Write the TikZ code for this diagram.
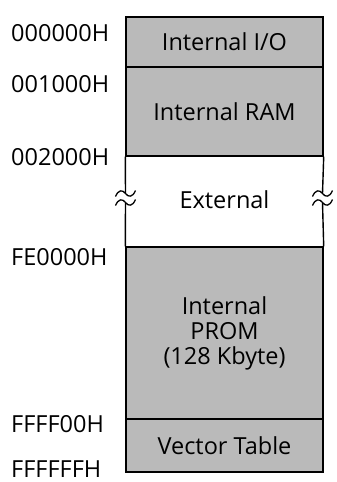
\documentclass[tikz,border=0pt]{standalone}
\usepackage{fontspec}
\setmainfont{Open Sans}
\usetikzlibrary{calc}
\begin{document}
\begin{tikzpicture}[x=1pt,y=-1pt,
  region/.style={draw=black, line width=1.4pt, fill=black!27, minimum width=197pt, inner sep=0pt, align=center, font=\fontsize{23.5}{25}\selectfont},
  addr/.style={anchor=west, inner sep=0pt, font=\fontsize{23.5}{25}\selectfont},
  wave/.style={line width=1.3pt}]
\useasboundingbox (0,0) rectangle (337,482);
% regions
\node[region, minimum height=50pt] (io) at (224.5,42) {Internal I/O};
\node[region, minimum height=89pt] (ram) at (224.5,111.5) {Internal RAM};
\node[region, minimum height=172pt] (prom) at (224.5,333) {Internal\\PROM\\(128 Kbyte)};
\node[region, minimum height=53pt] (vec) at (224.5,445.5) {Vector Table};
\node[font=\fontsize{23.5}{25}\selectfont] (ext) at (224.5,200) {External};
% external side lines with breaks
\coordinate (lt) at (125.5,193.5); \coordinate (lb) at (125.5,202.5);
\coordinate (rt) at (322.5,193.5); \coordinate (rb) at (322.5,202.5);
\draw[line width=1.4pt] (ram.south west) -- (lt);
\draw[line width=1.4pt] (lb) -- (prom.north west);
\draw[line width=1.4pt] (ram.south east) -- (rt);
\draw[line width=1.4pt] (rb) -- (prom.north east);
\foreach \c in {lt,lb,rt,rb}{
  \draw[wave] ($(\c)+(-10,3)$) .. controls ($(\c)+(-7,-4)$) and ($(\c)+(-3,-4)$) .. (\c)
     .. controls ($(\c)+(3,4)$) and ($(\c)+(7,4)$) .. ($(\c)+(10,-3)$);
}
% addresses
\node[addr] (a0) at (11,33.5) {000000H};
\node[addr] (a1) at (11,84) {001000H};
\node[addr] (a2) at (11,157) {002000H};
\node[addr] (a3) at (11,257) {FE0000H};
\node[addr] (a4) at (11,424) {FFFF00H};
\node[addr] (a5) at (11,469) {FFFFFFH};
\end{tikzpicture}
\end{document}
